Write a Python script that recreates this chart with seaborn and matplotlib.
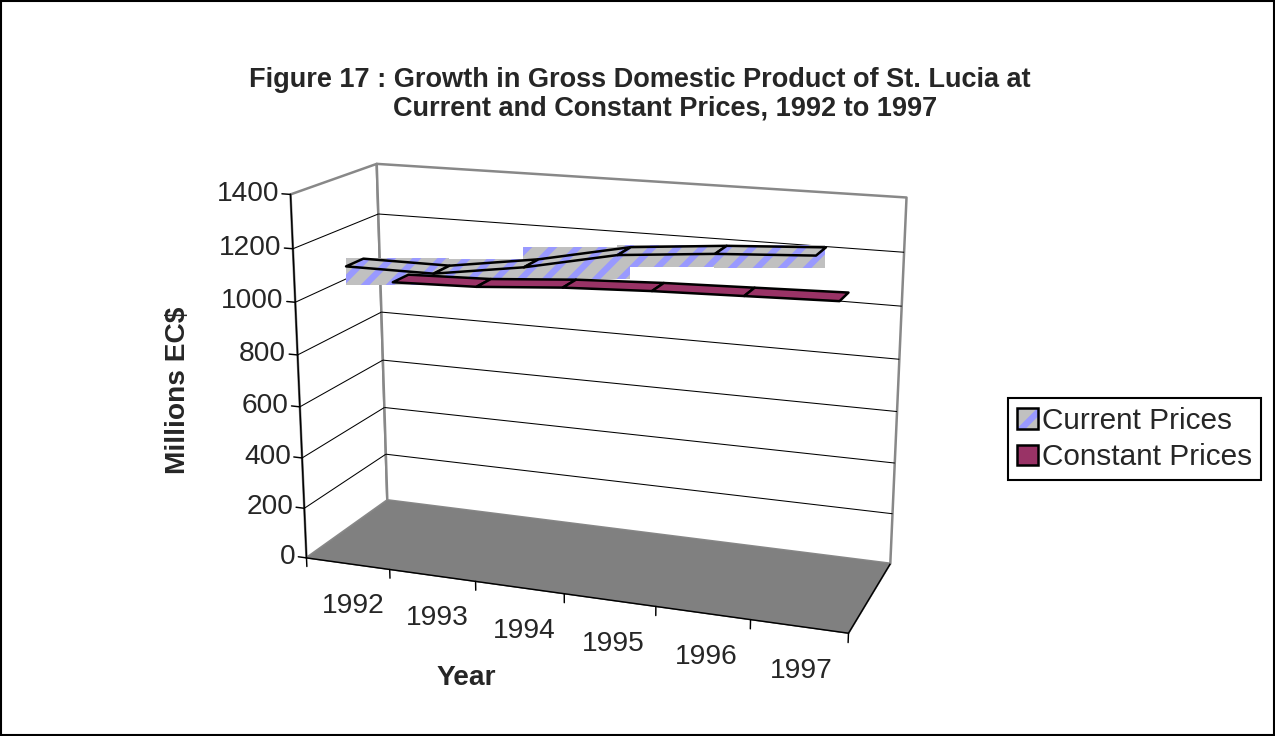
import numpy as np
import matplotlib
matplotlib.use("Agg")
import matplotlib.pyplot as plt
import matplotlib.transforms as mtransforms
import seaborn as sns
from matplotlib.patches import Patch, Rectangle
from matplotlib.legend_handler import HandlerTuple
from mpl_toolkits.mplot3d.art3d import Poly3DCollection, Line3DCollection

# data
years = ["1992", "1993", "1994", "1995", "1996", "1997"]
current_prices = [1135, 1135, 1185, 1255, 1285, 1305]
constant_prices = [990, 1000, 1025, 1040, 1050, 1060]
series_names = ["Current Prices", "Constant Prices"]
value_ticks = [0, 200, 400, 600, 800, 1000, 1200, 1400]

sns.set_style("white")
plt.rcParams["font.family"] = ["Liberation Sans", "DejaVu Sans"]
plt.rcParams["hatch.linewidth"] = 3.0

GRAY = "#C0C0C0"
STRIPE = "#9999FF"
PLUM = "#993366"
FLOOR = "#808080"
CLEAR = (0, 0, 0, 0)
FS = 13.5

W, H, DPI = 1275, 736, 150
fig = plt.figure(figsize=(W / DPI, H / DPI), dpi=DPI)
fig.patch.set_facecolor("white")

# square drawing area (the 3D axes always uses a square region)
side = 0.98 * H
cx, cy = 587.5, 393
ax = fig.add_axes([(cx - side / 2) / W, (H - cy - side / 2) / H, side / W, side / H],
                  projection="3d")
ax.set_proj_type("persp", focal_length=0.5)
ax.view_init(elev=16, azim=-70)
n = len(years)
depth = 2.0
zmax = value_ticks[-1]
ax.set_xlim(0, n)
ax.set_ylim(0, depth)
ax.set_zlim(0, zmax)
ax.set_box_aspect((3.3, 1.1, 2.2), zoom=0.955)
ax.set_axis_off()
ax.computed_zorder = False

M = ax.get_proj()


def project(pts):
    pts = np.atleast_2d(np.asarray(pts, float))
    h = np.column_stack([pts, np.ones(len(pts))]) @ M.T
    return h[:, :3] / h[:, 3:4]


def unproject(pts):
    h = np.column_stack([pts, np.ones(len(pts))]) @ np.linalg.inv(M).T
    return h[:, :3] / h[:, 3:4]


def label3d(x, y, z, s, dx=0, dy=0, **kw):
    p = project([(x, y, z)])[0]
    tr = mtransforms.offset_copy(ax.transData, fig=fig, x=dx, y=dy, units="dots")
    ax.text2D(p[0], p[1], s, transform=tr, zorder=10, **kw)


# walls and floor
back_wall = [(0, depth, 0), (n, depth, 0), (n, depth, zmax), (0, depth, zmax)]
left_wall = [(0, 0, 0), (0, depth, 0), (0, depth, zmax), (0, 0, zmax)]
floor = [(0, 0, 0), (n, 0, 0), (n, depth, 0), (0, depth, 0)]
ax.add_collection3d(Poly3DCollection([back_wall, left_wall], facecolor="white",
                                     edgecolor="#888888", linewidth=1.2, zorder=1), autolim=False)
ax.add_collection3d(Poly3DCollection([floor], facecolor=FLOOR, edgecolor=FLOOR, linewidth=0.3,
                                     zorder=1), autolim=False)
ax.add_collection3d(Line3DCollection([[(0, 0, 0), (n, 0, 0)], [(n, 0, 0), (n, depth, 0)]],
                                     colors="black", linewidths=0.7, zorder=2), autolim=False)

# gridlines on the two walls
grid = []
for v in value_ticks[1:-1]:
    grid.append([(0, 0, v), (0, depth, v)])
    grid.append([(0, depth, v), (n, depth, v)])
ax.add_collection3d(Line3DCollection(grid, colors="black", linewidths=0.5, zorder=2), autolim=False)

# value axis, ticks and labels
ax.plot([0, 0], [0, 0], [0, zmax], color="black", lw=0.7, zorder=2)
for v in value_ticks:
    ax.plot([0, -0.1], [0, 0], [v, v], color="black", lw=0.7, zorder=2)
    label3d(-0.1, 0, v, str(v), dx=-3, ha="right", va="center", fontsize=FS)

# category ticks and labels
for i in range(n + 1):
    ax.plot([i, i], [0, 0], [0, -35], color="black", lw=0.7, zorder=2)
for i, yr in enumerate(years):
    label3d(i + 0.5, 0, -170, yr, dx=4, ha="center", va="center", fontsize=FS)

# ribbons
half = 0.2
rows = [0.4, 1.5]


def ribbon(values, yc):
    segs = []
    for i in range(n - 1):
        x0, x1 = i + 0.5, i + 1.5
        segs.append([(x0, yc - half, values[i]), (x1, yc - half, values[i + 1]),
                     (x1, yc + half, values[i + 1]), (x0, yc + half, values[i])])
    return segs


# current prices: patterned fill leaves its bounding boxes behind, as in the source
current_segs = ribbon(current_prices, rows[0])
for seg in current_segs:
    pts = np.array(seg, float)
    low = pts.copy()
    low[:, 2] -= 45
    p = project(np.vstack([pts, low]))
    x0, x1 = p[:, 0].min(), p[:, 0].max()
    y0, y1 = p[:, 1].min(), p[:, 1].max()
    zm = p[:, 2].mean()
    box = unproject(np.array([(x0, y0, zm), (x1, y0, zm), (x1, y1, zm), (x0, y1, zm)]))
    ax.add_collection3d(Poly3DCollection([box], facecolor=GRAY, edgecolor=STRIPE, linewidth=0,
                                         hatch="//", zorder=3), autolim=False)

ax.add_collection3d(Poly3DCollection(ribbon(constant_prices, rows[1]), facecolor=PLUM,
                                     edgecolor="black", linewidth=1.2, zorder=4), autolim=False)

zo = 5
for seg in current_segs:
    ax.add_collection3d(Poly3DCollection([seg], facecolor=GRAY, edgecolor=STRIPE, linewidth=0,
                                         hatch="//", zorder=zo), autolim=False)
    ax.add_collection3d(Poly3DCollection([seg], facecolor=CLEAR, edgecolor="black", linewidth=1.2,
                                         zorder=zo + 1), autolim=False)
    zo += 2

# titles
fig.text(640 / W, 1 - 80 / H, "Figure 17 : Growth in Gross Domestic Product of St. Lucia at",
         ha="center", va="center", fontsize=13, fontweight="bold")
fig.text(665 / W, 1 - 108 / H, "Current and Constant Prices, 1992 to 1997",
         ha="center", va="center", fontsize=13, fontweight="bold")
fig.text(178 / W, 1 - 390 / H, "Millions EC$", rotation=90, ha="center", va="center",
         fontsize=FS, fontweight="bold")
fig.text(466 / W, 1 - 678 / H, "Year", ha="center", va="center", fontsize=FS, fontweight="bold")

handles = [(Patch(facecolor=GRAY, edgecolor=STRIPE, hatch="//", lw=0),
            Patch(facecolor="none", edgecolor="black", lw=1.2)),
           Patch(facecolor=PLUM, edgecolor="black", lw=1.2)]
fig.legend(handles, series_names, handler_map={tuple: HandlerTuple(ndivide=1, pad=0)},
           loc="center left", bbox_to_anchor=(1008 / W, 1 - 439 / H), fontsize=14.3,
           frameon=True, fancybox=False, edgecolor="black", framealpha=1,
           handlelength=0.7, handleheight=0.7, handletextpad=0.15, borderpad=0.3,
           labelspacing=0.3, borderaxespad=0)
fig.add_artist(Rectangle((0.001, 0.001), 0.998, 0.997, transform=fig.transFigure,
                         fill=False, edgecolor="black", lw=1.0))

fig.savefig("out.png", dpi=DPI, facecolor="white")
